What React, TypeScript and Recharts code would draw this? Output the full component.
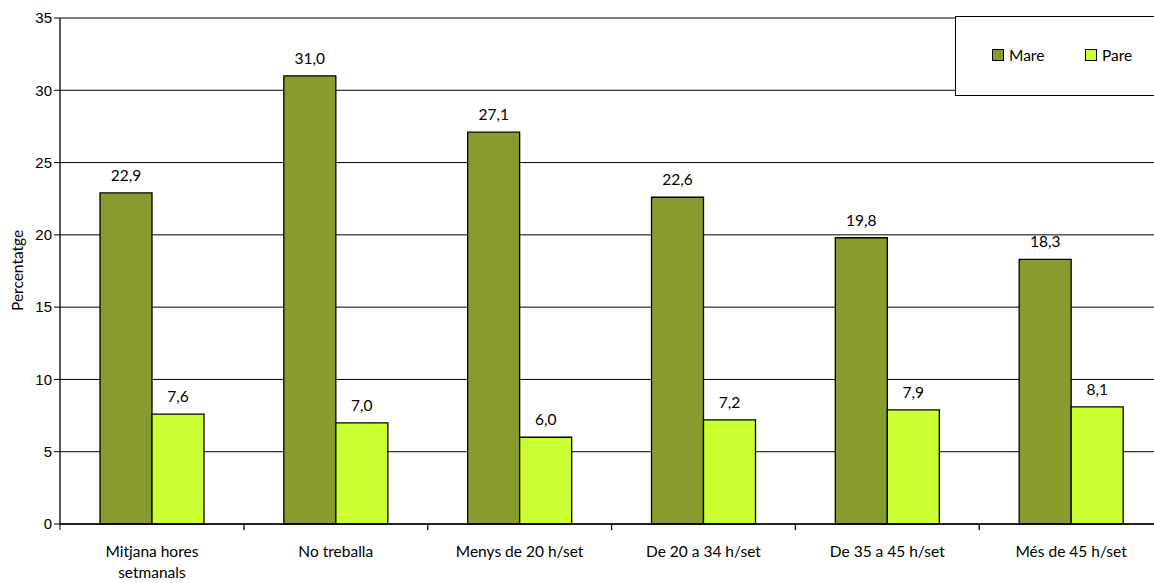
import { BarChart, Bar, XAxis, YAxis, CartesianGrid, LabelList } from 'recharts';

const categories = [
  'Mitjana hores setmanals',
  'No treballa',
  'Menys de 20 h/set',
  'De 20 a 34 h/set',
  'De 35 a 45 h/set',
  'Més de 45 h/set',
];
const mare = [22.9, 31.0, 27.1, 22.6, 19.8, 18.3];
const pare = [7.6, 7.0, 6.0, 7.2, 7.9, 8.1];
const yTicks = [0, 5, 10, 15, 20, 25, 30, 35];

const data = categories.map((name, i) => ({ name, mare: mare[i], pare: pare[i] }));

const fmt = (v: any) => Number(v).toFixed(1).replace('.', ',');
const calibri = 'Lato, "Open Sans", sans-serif';
const BAND = 184;

const CategoryTick = (props: any) => {
  const { x, y, payload, index } = props;
  const label: string = payload.value;
  const lines = label === 'Mitjana hores setmanals' ? ['Mitjana hores', 'setmanals'] : [label];
  return (
    <g>
      <line x1={x + BAND / 2} x2={x + BAND / 2} y1={y - 8} y2={y - 2} stroke="#000" strokeWidth={1.3} />
      {index === 0 && <line x1={x - BAND / 2} x2={x - BAND / 2} y1={y - 8} y2={y - 2} stroke="#000" />}
      {lines.map((l, i) => (
        <text key={i} x={x} y={y + 25 + i * 21} textAnchor="middle" fontSize={15.5} fontFamily={calibri} fill="#000">
          {l}
        </text>
      ))}
    </g>
  );
};

const LegendBox = () => (
  <div
    style={{
      position: 'absolute',
      left: 955,
      top: 16,
      width: 210,
      height: 80,
      border: '1.5px solid #000',
      background: '#fff',
      boxSizing: 'border-box',
      fontFamily: calibri,
      fontSize: 15.5,
    }}
  >
    {[
      { label: 'Mare', color: '#879b2f', left: 36 },
      { label: 'Pare', color: '#ccff33', left: 129 },
    ].map((it) => (
      <div key={it.label} style={{ position: 'absolute', left: it.left, top: 29, display: 'flex', alignItems: 'center' }}>
        <span style={{ width: 10, height: 10, background: it.color, border: '1px solid #000', display: 'inline-block', marginRight: 5 }} />
        <span>{it.label}</span>
      </div>
    ))}
  </div>
);

export default function App() {
  return (
    <div style={{ position: 'absolute', left: 0, top: 0, width: 1154, height: 583, overflow: 'hidden', background: '#fff' }}>
      <BarChart
        width={1170}
        height={583}
        data={data}
        margin={{ top: 18, right: 7, left: 0, bottom: 0 }}
        barGap={0}
        barSize={52}
      >
        <CartesianGrid vertical={false} stroke="#000" strokeOpacity={1} />
        <XAxis
          dataKey="name"
          height={59}
          axisLine={{ stroke: '#000', strokeWidth: 1.3 }}
          tickLine={false}
          interval={0}
          tick={<CategoryTick />}
        />
        <YAxis
          width={60}
          domain={[0, 35]}
          ticks={yTicks}
          interval={0}
          axisLine={{ stroke: '#000', strokeWidth: 1.3 }}
          tickLine={{ stroke: '#000' }}
          tickSize={6}
          tick={{ fill: '#000', fontSize: 15, fontFamily: '"Liberation Sans", Arial, sans-serif' }}
          label={{
            value: 'Percentatge',
            angle: -90,
            position: 'insideLeft',
            dx: 12,
            dy: 40,
            style: { fill: '#000', fontSize: 15.5, fontFamily: calibri },
          }}
        />
        <Bar dataKey="mare" name="Mare" fill="#879b2f" stroke="#000" strokeWidth={1.3} isAnimationActive={false}>
          <LabelList dataKey="mare" position="top" offset={12} formatter={fmt} style={{ fill: '#000', fontSize: 15.5, fontFamily: calibri }} />
        </Bar>
        <Bar dataKey="pare" name="Pare" fill="#ccff33" stroke="#000" strokeWidth={1.3} isAnimationActive={false}>
          <LabelList dataKey="pare" position="top" offset={12} formatter={fmt} style={{ fill: '#000', fontSize: 15.5, fontFamily: calibri }} />
        </Bar>
      </BarChart>
      <LegendBox />
    </div>
  );
}
